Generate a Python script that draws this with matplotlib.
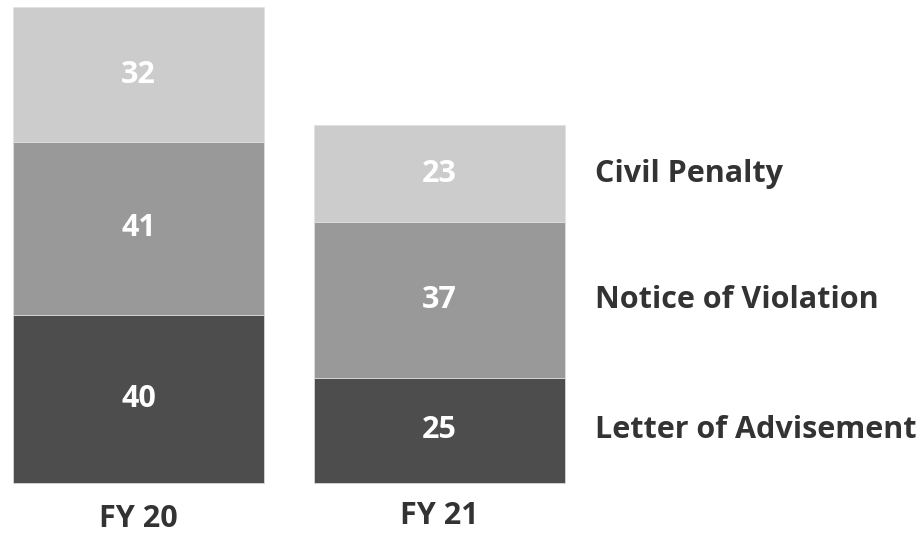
import matplotlib
matplotlib.use("Agg")
import matplotlib.pyplot as plt
import numpy as np

YEARS = ["FY 20", "FY 21"]
CATEGORIES = ["Letter of Advisement", "Notice of Violation", "Civil Penalty"]
LETTER = [40, 25]
NOTICE = [41, 37]
CIVIL = [32, 23]
SERIES = [LETTER, NOTICE, CIVIL]
COLORS = ["#4d4d4d", "#999999", "#cccccc"]

FONT = "Open Sans"
TEXT_COLOR = "#333333"
FS = 22

plt.rcParams.update({"font.family": [FONT, "DejaVu Sans"], "font.weight": "bold"})

fig = plt.figure(figsize=(9.22, 5.34), dpi=100)
ax = fig.add_axes([0, 0, 1, 1])
ax.set_xlim(-0.4601, 2.603)
ax.set_ylim(-12.11, 114.73)
ax.axis("off")

x = np.arange(len(YEARS))
width = 0.834
bottom = np.zeros(len(YEARS))
for values, color in zip(SERIES, COLORS):
    vals = np.array(values, dtype=float)
    ax.bar(x, vals, width=width, bottom=bottom, color=color,
           edgecolor="#e0e0e0", linewidth=0.5)
    for xi, b, v in zip(x, bottom, vals):
        ax.text(xi, b + v / 2, f"{int(v)}", ha="center", va="center",
                color="white", fontsize=FS, fontweight="bold")
    bottom += vals

# year labels under the bars (baseline positions)
label_y = [-10.33, -9.73]
for xi, name, ly in zip(x, YEARS, label_y):
    ax.text(xi, ly, name, ha="center", va="baseline", color=TEXT_COLOR,
            fontsize=FS, fontweight="bold")

# category labels to the right of the last bar
last = x[-1]
cum = 0.0
for name, values in zip(CATEGORIES, SERIES):
    v = values[-1]
    ax.text(last + width / 2 + 0.1, cum + v / 2, name, ha="left", va="center",
            color=TEXT_COLOR, fontsize=FS, fontweight="bold")
    cum += v

fig.savefig("out.png", dpi=100)
